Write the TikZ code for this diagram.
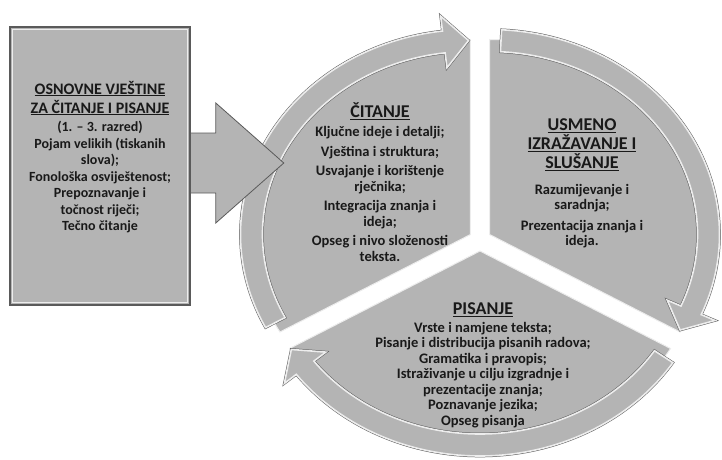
\documentclass[tikz,border=0pt]{standalone}
\usepackage{fontspec}
\setmainfont{Carlito}

\definecolor{segfill}{HTML}{B4B4B4}
\definecolor{edgedark}{HTML}{5A5A5A}
\definecolor{edgelight}{HTML}{EDEDED}

\begin{document}
\begin{tikzpicture}[
            x = 1pt, y = 1pt,
            head/.style={font=\bfseries\fontsize{18}{19}\selectfont, align=center, inner sep=0pt, text=black!90},
            body/.style={font=\bfseries\fontsize{14.5}{15.5}\selectfont, align=center, inner sep=0pt, text=black!90},
            segment/.style={fill=segfill, draw=edgelight, line width=1},
            ring/.style={fill=segfill, draw=edgelight, line width=1.6, preaction={draw=edgedark, line width=2.6}},
            infobox/.style={fill=segfill, draw=edgedark, line width=1.6, minimum width=180, minimum height=278},
            ]
        \useasboundingbox (0,0) rectangle (722,459);

        % cycle: wedges first, then the arrow bands
        \begin{scope}[shift={(480,219)}]
            \foreach \a/\b/\m in {210/90/150, 90/-30/30, -30/-150/270}{
                \begin{scope}[shift={(\m:11)}]
                    \path[segment] (0,0) -- (\a:220pt and 195pt)
                        arc[start angle=\a, end angle=\b, x radius=220pt, y radius=195pt] -- cycle;
                \end{scope}
            }
            \foreach \a/\b/\m in {210/90/150, 90/-30/30, -30/-150/270}{
                \pgfmathsetmacro\s{\a-3}
                \pgfmathsetmacro\e{\b+7}
                \pgfmathsetmacro\t{\b+0.5}
                \begin{scope}[shift={(\m:11)}]
                    \path[ring] (\s:230pt and 205pt)
                        arc[start angle=\s, end angle=\e, x radius=230pt, y radius=205pt]
                        -- (\e:245pt and 220pt) -- (\t:219pt and 194pt) -- (\e:193pt and 168pt)
                        -- (\e:208pt and 183pt)
                        arc[start angle=\e, end angle=\s, x radius=208pt, y radius=183pt] -- cycle;
                \end{scope}
            }
        \end{scope}

        % left box and its block arrow
        \node[infobox] (osnove) at (100,293) {};
        \path[fill=segfill, draw=edgedark, line width=.8] (osnove.east) ++(-2,33) -- ++(27,0) -- ++(0,30)
            -- ++(68,-60) -- ++(-68,-60) -- ++(0,30) -- ++(-27,0);
        \node[infobox] (osnove) at (100,293) {};
        \draw[edgelight, line width=1] ([shift={(3.5,3.5)}]osnove.south west) rectangle ([shift={(-3.5,-3.5)}]osnove.north east);

        \node[head, font=\bfseries\fontsize{16}{19}\selectfont] (osnoveHead) at (100,361) {\underline{OSNOVNE VJEŠTINE}\\\underline{ZA ČITANJE I PISANJE}};
        \node[body, font=\bfseries\fontsize{14}{16.5}\selectfont] (osnoveText) at (100,282) {(1. – 3. razred)\\Pojam velikih (tiskanih\\slova);\\Fonološka osviještenost;\\Prepoznavanje i\\točnost riječi;\\Tečno čitanje};

        \node[head] (citanjeHead) at (380,348) {\underline{ČITANJE}};
        \node[body] (citanjeText) at (380,265) {Ključne ideje i detalji;\\[4pt]Vještina i struktura;\\[4pt]Usvajanje i korištenje\\rječnika;\\[4pt]Integracija znanja i\\ideja;\\[4pt]Opseg i nivo složenosti\\teksta.};

        \node[head] (usmenoHead) at (582,314.5) {\underline{USMENO}\\\underline{IZRAŽAVANJE I}\\\underline{SLUŠANJE}};
        \node[body] (usmenoText) at (582,243) {Razumijevanje i\\saradnja;\\[5pt]Prezentacija znanja i\\ideja.};

        \node[head] (pisanjeHead) at (483,149.5) {\underline{PISANJE}};
        \node[body] (pisanjeText) at (483,84) {Vrste i namjene teksta;\\Pisanje i distribucija pisanih radova;\\Gramatika i pravopis;\\Istraživanje u cilju izgradnje i\\prezentacije znanja;\\Poznavanje jezika;\\Opseg pisanja};
    \end{tikzpicture}
\end{document}
